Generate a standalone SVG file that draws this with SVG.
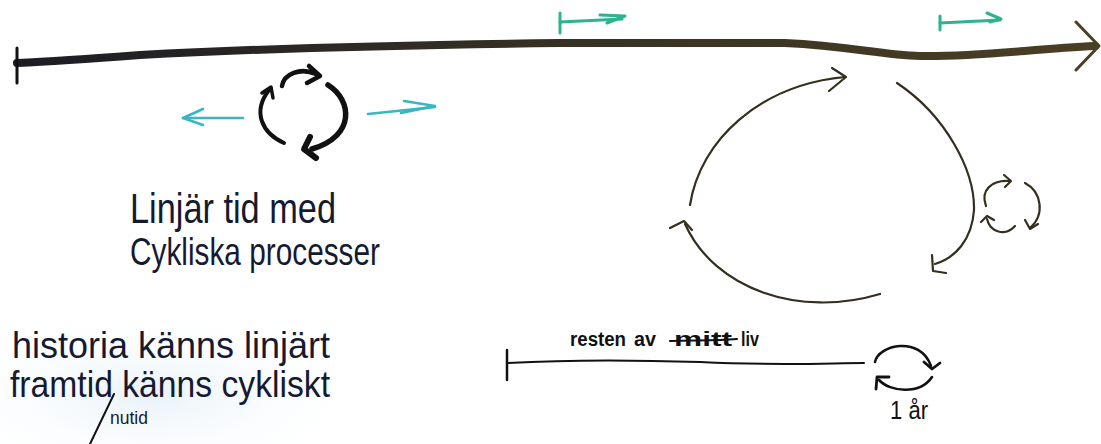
<svg xmlns="http://www.w3.org/2000/svg" width="1101" height="444" viewBox="0 0 1101 444">
<defs>
<linearGradient id="tlGrad" x1="0" y1="0" x2="1" y2="0">
<stop offset="0" stop-color="#1c1c24"/>
<stop offset="0.35" stop-color="#302c24"/>
<stop offset="1" stop-color="#4a3f24"/>
</linearGradient>
<radialGradient id="wash" cx="0.5" cy="0.5" r="0.5">
<stop offset="0" stop-color="#e3eff7" stop-opacity="0.8"/>
<stop offset="1" stop-color="#ffffff" stop-opacity="0"/>
</radialGradient>
</defs>
<style>
.ink{fill:none;stroke:#111;stroke-linecap:round;stroke-linejoin:round}
.olive{fill:none;stroke:#342e1f;stroke-width:2.2;stroke-linecap:round;stroke-linejoin:round}
.teal{fill:none;stroke:#38b6c2;stroke-width:2.6;stroke-linecap:round;stroke-linejoin:round}
.green{fill:none;stroke:#2cb38f;stroke-width:3;stroke-linecap:round;stroke-linejoin:round}
.hand{font-family:"Liberation Sans","DejaVu Sans",sans-serif;fill:#161a30}
.small{font-family:"Liberation Sans","DejaVu Sans",sans-serif;fill:#111;font-size:20px;font-weight:bold}
</style>
<rect width="1101" height="444" fill="#ffffff"/>
<ellipse cx="150" cy="395" rx="230" ry="90" fill="url(#wash)"/>

<g id="timeline">
<path d="M17,63 C60,61 100,58 140,55 C250,49 400,45 560,43 L785,43 C850,46 880,55 920,56 C980,57 1030,49 1095,46" fill="none" stroke="url(#tlGrad)" stroke-width="8" stroke-linecap="round"/>
<path class="ink" d="M17,48 L17,83" stroke="#1c1c24" stroke-width="3"/>
<path d="M1076,22 L1099,46 L1076,70" fill="none" stroke="#4a3f24" stroke-width="3" stroke-linecap="round" stroke-linejoin="round"/>
</g>

<g id="cycle-left">
<path class="ink" d="M282,86 C284,74 300,67 316,74" stroke-width="4.5"/>
<path class="ink" d="M309,66 L320,76 L307,83" stroke-width="4.5"/>
<path class="ink" d="M284,143 C262,133 252,112 269,90" stroke-width="4"/>
<path class="ink" d="M262,93 L271,87 L273,98" stroke-width="3.5"/>
<path class="ink" d="M328,85 C352,100 356,136 312,149" stroke-width="5.5"/>
<path class="ink" d="M310,137 L304,149 L316,158" stroke-width="6"/>
</g>

<g id="label-linear">
<text class="hand" x="130" y="223" font-size="42" textLength="206" lengthAdjust="spacingAndGlyphs">Linjär tid med</text>
<text class="hand" x="130" y="265" font-size="39" textLength="250" lengthAdjust="spacingAndGlyphs">Cykliska processer</text>
</g>

<g id="cycle-big">
<path class="olive" d="M690,205 C700,140 760,85 845,77"/>
<path class="olive" d="M832,68 L846,77 L829,91"/>
<path class="olive" d="M897,83 C945,115 975,170 974,210 C972,240 955,258 935,264"/>
<path class="olive" d="M932,255 L933,271 L946,273"/>
<path class="olive" d="M880,294 C800,318 715,290 685,224"/>
<path class="olive" d="M670,228 L684,221 L692,230"/>
</g>

<g id="cycle-small">
<path class="olive" d="M986,206 C980,190 992,180 1009,181" stroke-width="3"/>
<path class="olive" d="M1004,175 L1011,181 L1005,187" stroke-width="3.2"/>
<path class="olive" d="M1025,183 C1042,192 1045,215 1030,228" stroke-width="3"/>
<path class="olive" d="M1025,220 L1030,229 L1038,224" stroke-width="3.2"/>
<path class="olive" d="M1015,226 C1005,237 990,232 987,219" stroke-width="3"/>
<path class="olive" d="M981,222 L987,216 L994,220" stroke-width="3.2"/>
</g>

<g id="life-line">
<path class="ink" d="M507,350 L507,380" stroke-width="2.5"/>
<path class="ink" d="M507,363 C560,360 640,360 700,362 C780,366 830,363 864,363" stroke-width="2"/>
<text class="small" x="570" y="346" textLength="56" lengthAdjust="spacingAndGlyphs">resten</text>
<text class="small" x="634" y="346" textLength="22" lengthAdjust="spacingAndGlyphs">av</text>
<text class="small" x="674" y="346" textLength="58" lengthAdjust="spacingAndGlyphs">mitt</text>
<text class="small" x="741" y="346" textLength="18" lengthAdjust="spacingAndGlyphs">liv</text>
<path class="ink" d="M670,341 C690,340 715,341 737,339" stroke-width="2"/>
</g>

<g id="year-cycle">
<path class="ink" d="M875,362 C878,345 920,335 931,366" stroke-width="2.6"/>
<path class="ink" d="M924,362 L932,369 L940,363" stroke-width="2.8"/>
<path class="ink" d="M932,377 C920,395 890,392 879,380" stroke-width="2.6"/>
<path class="ink" d="M876,389 L877,377 L889,377" stroke-width="2.8"/>
<text class="small" x="890" y="419" font-size="25" font-weight="normal" style="font-size:25px;font-weight:normal" textLength="38" lengthAdjust="spacingAndGlyphs">1 år</text>
</g>

<g id="notes">
<text class="hand" x="12" y="358" font-size="36" textLength="318" lengthAdjust="spacingAndGlyphs">historia känns linjärt</text>
<text class="hand" x="10" y="397" font-size="36" textLength="320" lengthAdjust="spacingAndGlyphs">framtid känns cykliskt</text>
<path class="ink" d="M114,394 L90,444" stroke="#161a30" stroke-width="2"/>
<text class="hand" x="110" y="424" font-size="19" textLength="38" lengthAdjust="spacingAndGlyphs">nutid</text>
</g>

<g id="connectors">
<path class="teal" d="M243,118 L183,118"/>
<path class="teal" d="M203,109 L183,118 L203,125"/>
<path class="teal" d="M368,114 L435,107"/>
<path class="teal" d="M404,101 L435,106 L401,113"/>
<path class="green" d="M560,13 L560,33"/>
<path class="green" d="M560,22 L622,19"/>
<path class="green" d="M600,15 L625,16 L607,23"/>
<path class="green" d="M940,16 L940,30"/>
<path class="green" d="M940,23 L1000,20"/>
<path class="green" d="M987,13 L1001,19 L990,22"/>
</g>
</svg>
